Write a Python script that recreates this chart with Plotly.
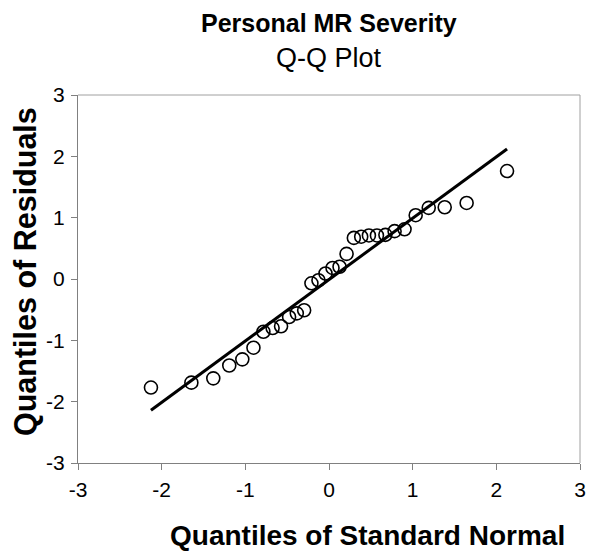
import plotly.graph_objects as go

# Normal quantiles (x) and residual quantiles (y)
normal_q = [-2.128, -1.645, -1.383, -1.192, -1.036, -0.903, -0.784, -0.674, -0.573, -0.477,
            -0.385, -0.297, -0.210, -0.126, -0.042, 0.042, 0.126, 0.210, 0.297, 0.385,
            0.477, 0.573, 0.674, 0.784, 0.903, 1.036, 1.192, 1.383, 1.645, 2.128]
residual_q = [-1.77, -1.69, -1.62, -1.41, -1.31, -1.12, -0.86, -0.80, -0.77, -0.62,
              -0.56, -0.51, -0.07, -0.02, 0.09, 0.18, 0.20, 0.41, 0.67, 0.69,
              0.71, 0.71, 0.72, 0.78, 0.81, 1.04, 1.16, 1.17, 1.24, 1.76]
# Reference line endpoints
line_x = [-2.128, 2.128]
line_y = [-2.14, 2.12]

tick_vals = [-3, -2, -1, 0, 1, 2, 3]
tick_text = ["-3", "-2", "-1", "0", "1", "2", "3"]

title_main = "Personal MR Severity"
title_sub = "Q-Q Plot"
x_title = "Quantiles of Standard Normal"
y_title = "Quantiles of Residuals"

FONT = "Liberation Sans, Arial, sans-serif"

# plot area in page pixels (body margin removed below)
L, R, T, B = 78, 580, 95, 463
W, H = 591, 554


def px(fx):
    return (fx - L) / (R - L)


def py(fy):
    return (B - fy) / (B - T)


fig = go.Figure()
fig.add_trace(go.Scatter(x=line_x, y=line_y, mode="lines",
                         line=dict(color="black", width=3), showlegend=False,
                         hoverinfo="skip"))
fig.add_trace(go.Scatter(x=normal_q, y=residual_q, mode="markers",
                         marker=dict(symbol="circle-open", size=13, color="black",
                                     line=dict(color="black", width=1.6)),
                         showlegend=False))

axis_common = dict(range=[-3, 3], tickvals=tick_vals, ticktext=tick_text,
                   showgrid=False, zeroline=False, showline=True,
                   linecolor="#808080", linewidth=1, ticks="outside", ticklen=6,
                   tickcolor="#808080", mirror=False,
                   tickfont=dict(family=FONT, size=21, color="black"))

fig.update_xaxes(**axis_common, ticklabelstandoff=2)
fig.update_yaxes(**axis_common, ticklabelstandoff=2)

# top and right border of the plot area
fig.add_shape(type="line", xref="paper", yref="paper", x0=0, x1=1, y0=1, y1=1,
              line=dict(color="#a0a0a0", width=1))
fig.add_shape(type="line", xref="paper", yref="paper", x0=1, x1=1, y0=0, y1=1,
              line=dict(color="#a0a0a0", width=1))

fig.add_annotation(text="<b>" + title_main + "</b>", xref="paper", yref="paper",
                   x=px(329), y=py(23), showarrow=False,
                   font=dict(family=FONT, size=25, color="black"),
                   xanchor="center", yanchor="middle")
fig.add_annotation(text=title_sub, xref="paper", yref="paper",
                   x=px(329), y=py(58), showarrow=False,
                   font=dict(family=FONT, size=27, color="black"),
                   xanchor="center", yanchor="middle")
fig.add_annotation(text="<b>" + x_title + "</b>", xref="paper", yref="paper",
                   x=px(367), y=py(535), showarrow=False,
                   font=dict(family=FONT, size=28, color="black"),
                   xanchor="center", yanchor="middle")
fig.add_annotation(text="<b>" + y_title + "</b>", xref="paper", yref="paper",
                   x=px(25), y=py(272), showarrow=False,
                   textangle=-90,
                   font=dict(family=FONT, size=30.5, color="black"),
                   xanchor="center", yanchor="middle")

fig.update_layout(width=W, height=H,
                  margin=dict(l=L, r=W - R, t=T, b=H - B, autoexpand=False),
                  paper_bgcolor="white", plot_bgcolor="white",
                  font=dict(family=FONT))

fig.write_html("out.html",
               config={"displayModeBar": False},
               post_script="document.body.style.margin='0';"
                           "document.body.style.overflow='hidden';")
